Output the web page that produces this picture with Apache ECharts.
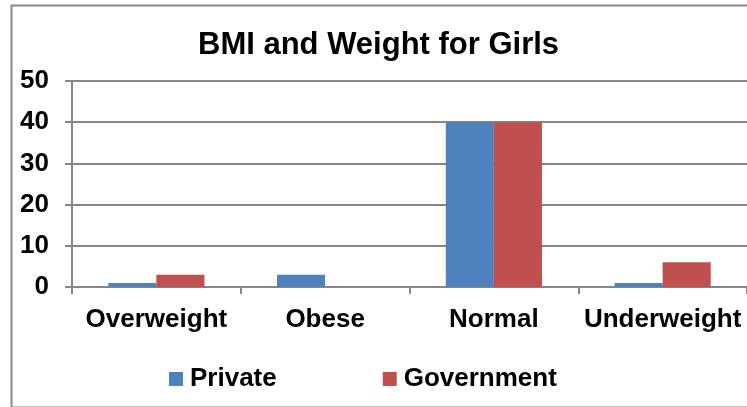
<!DOCTYPE html>
<html><head><meta charset="utf-8">
<script src="https://cdn.jsdelivr.net/npm/echarts@6/dist/echarts.min.js"></script>
<style>html,body{margin:0;padding:0;background:#fff}#c{width:747px;height:407px}</style>
</head><body><div id="c"></div>
<script>
const categories = ['Overweight', 'Obese', 'Normal', 'Underweight'];
const privateVals = [1, 3, 40, 1];
const governmentVals = [3, 0, 40, 6];
const yTicks = [0, 10, 20, 30, 40, 50];

const chart = echarts.init(document.getElementById('c'), null, {renderer: 'canvas'});
const font = 'Liberation Sans, Arial, sans-serif';
chart.setOption({
  animation: false,
  backgroundColor: '#fff',
  graphic: [{
    type: 'rect', left: 9, top: 3, z: -1,
    shape: {x: 0, y: 0, width: 745, height: 402},
    style: {fill: 'none', stroke: '#868686', lineWidth: 2}
  }],
  title: {
    text: 'BMI and Weight for Girls', left: 198, top: 30, padding: 0,
    textStyle: {fontFamily: font, fontWeight: 'bold', fontSize: 31, color: '#000'}
  },
  legend: {
    left: 169, top: 366, padding: 0, itemWidth: 14, itemHeight: 14, itemGap: 106,
    icon: 'rect',
    textStyle: {fontFamily: font, fontWeight: 'bold', fontSize: 26, color: '#000', padding: [0, 0, 0, 2]},
    data: ['Private', 'Government']
  },
  grid: {left: 72, right: 0, top: 81, bottom: 120, containLabel: false},
  xAxis: {
    type: 'category', data: categories,
    axisLine: {lineStyle: {color: '#868686', width: 2}},
    axisTick: {show: true, length: 7, lineStyle: {color: '#868686', width: 2}},
    axisLabel: {interval: 0, fontFamily: font, fontWeight: 'bold', fontSize: 26, color: '#000', margin: 20}
  },
  yAxis: {
    type: 'value', min: yTicks[0], max: yTicks[yTicks.length - 1], interval: 10,
    axisLine: {show: true, lineStyle: {color: '#868686', width: 2}},
    axisTick: {show: true, length: 7, lineStyle: {color: '#868686', width: 2}},
    splitLine: {lineStyle: {color: '#868686', width: 2}},
    axisLabel: {fontFamily: font, fontWeight: 'bold', fontSize: 26, color: '#000', margin: 23}
  },
  series: [
    {name: 'Private', type: 'bar', data: privateVals, barGap: '0%', barCategoryGap: '43%',
     itemStyle: {color: '#4F81BD'}},
    {name: 'Government', type: 'bar', data: governmentVals, barGap: '0%', barCategoryGap: '43%',
     itemStyle: {color: '#C0504D'}}
  ]
});
</script></body></html>
